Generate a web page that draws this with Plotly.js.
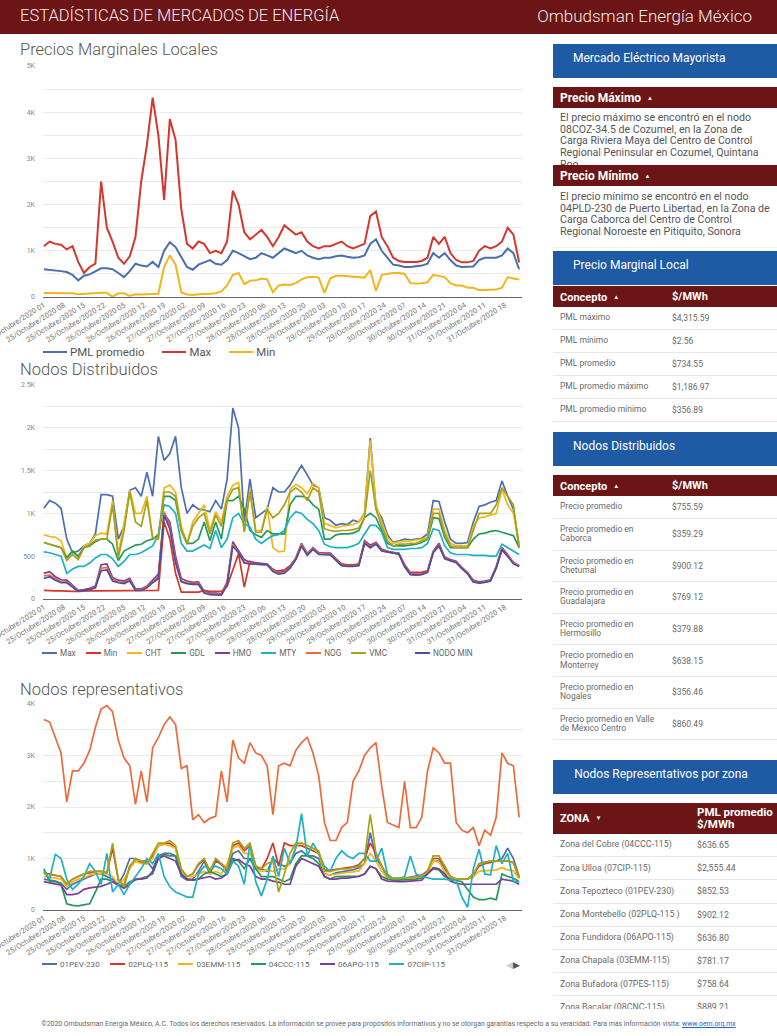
<!DOCTYPE html>
<html><head><meta charset="utf-8">
<script src="https://cdn.plot.ly/plotly-3.0.1.min.js"></script>
<style>
body{margin:0;width:777px;height:1036px;overflow:hidden;background:#fff;font-family:Roboto,"Noto Sans",sans-serif;position:relative}
.abs{position:absolute}
.hdrtxt{position:absolute;color:#f5e9e9;font-weight:300;white-space:nowrap}
.ctitle{position:absolute;left:20px;font-size:16.5px;font-weight:300;color:#555;white-space:nowrap}
.chart{position:absolute;left:0;width:530px}
.leg{position:absolute;display:flex;align-items:center;white-space:nowrap;color:#666}
.leg .it{display:flex;align-items:center}
.leg .ln{display:inline-block;height:2px;margin-right:3px}
.blue{position:absolute;left:553px;width:224px;height:34px;background:#1f5aa5;color:#fff;font-size:12px;line-height:28px;white-space:nowrap}
.red{position:absolute;left:553px;width:224px;background:#6b1517;color:#fff;font-weight:700;font-size:12px;white-space:nowrap}
.tri{font-size:6px;margin-left:6px;vertical-align:2px}
.para{position:absolute;left:560px;font-size:10.6px;line-height:11.7px;color:#555;white-space:nowrap;overflow:hidden}
.row{position:absolute;left:553px;width:224px;border-bottom:1px solid #e8e8e8;font-size:8.5px;color:#6a6a6a;display:flex;align-items:center}
.row .c1{position:absolute;left:7px;line-height:9.3px;white-space:pre-line}
.row .c2{position:absolute;left:119px}
#t3 .row{font-size:8.8px}
#t3 .row .c2{left:144px}
</style></head><body>

<div class="abs" style="left:0;top:0;width:777px;height:34px;background:#6b1517"></div>
<div class="hdrtxt" style="left:20px;top:6px;font-size:16.5px">ESTADÍSTICAS DE MERCADOS DE ENERGÍA</div>
<div class="hdrtxt" style="right:25px;top:6px;font-size:17px">Ombudsman Energía México</div>

<div class="ctitle" style="top:40px">Precios Marginales Locales</div>
<div id="c1" class="chart" style="top:60px;height:290px"></div>
<div id="l1" class="leg" style="left:43px;top:345px;font-size:11.4px;color:#555"></div>

<div class="ctitle" style="top:360px">Nodos Distribuidos</div>
<div id="c2" class="chart" style="top:378px;height:272px"></div>
<div id="l2" class="leg" style="left:42px;top:648px;font-size:8.2px"></div>

<div class="ctitle" style="top:680px">Nodos representativos</div>
<div id="c3" class="chart" style="top:697px;height:262px"></div>
<div id="l3" class="leg" style="left:42px;top:959px;font-size:8.1px"></div>
<div class="abs" style="left:506px;top:959px;font-size:9px;line-height:12px"><span style="color:#ccc">◀</span><span style="color:#555">▶</span></div>

<!-- panel derecho -->
<div class="blue" style="top:44px"><span style="padding-left:20px">Mercado Eléctrico Mayorista</span></div>
<div class="para" style="top:112px;height:53px">El precio máximo se encontró en el nodo<br>08COZ-34.5 de Cozumel, en la Zona de<br>Carga Riviera Maya del Centro de Control<br>Regional Peninsular en Cozumel, Quintana<br>Roo</div>
<div class="red" style="top:87px;height:21px;line-height:21px"><span style="padding-left:7px">Precio Máximo</span><span class="tri">▲</span></div>
<div class="red" style="top:165px;height:21px;line-height:21px"><span style="padding-left:7px">Precio Mínimo</span><span class="tri">▲</span></div>
<div class="para" style="top:191px;height:50px">El precio mínimo se encontró en el nodo<br>04PLD-230 de Puerto Libertad, en la Zona de<br>Carga Caborca del Centro de Control<br>Regional Noroeste en Pitiquito, Sonora</div>
<div class="abs" style="left:553px;top:247px;width:224px;height:1px;background:#eef2f5"></div>

<div class="blue" style="top:251px"><span style="padding-left:20px">Precio Marginal Local</span></div>
<div class="red" style="top:286px;height:21px;line-height:21px;font-size:11px"><span style="position:absolute;left:7px">Concepto<span class="tri">▲</span></span><span style="position:absolute;left:119px">$/MWh</span></div>
<div id="t1"></div>

<div class="blue" style="top:432px"><span style="padding-left:20px">Nodos Distribuidos</span></div>
<div class="red" style="top:475px;height:21px;line-height:21px;font-size:11px"><span style="position:absolute;left:7px">Concepto<span class="tri">▲</span></span><span style="position:absolute;left:119px">$/MWh</span></div>
<div id="t2"></div>

<div class="blue" style="top:760px;text-align:center;padding-right:8px;box-sizing:border-box">Nodos Representativos por zona</div>
<div class="red" style="top:803px;height:31px;font-size:11px"><span style="position:absolute;left:7px;top:9px">ZONA<span class="tri">▼</span></span><span style="position:absolute;left:144px;top:3px;line-height:12px;font-size:11.5px">PML promedio<br>$/MWh</span></div>
<div class="abs" style="left:553px;top:834px;width:224px;height:175px;overflow:hidden"><div id="t3" style="position:relative;left:-553px;top:-834px"></div></div>

<div class="abs" style="left:0;top:1020px;width:777px;text-align:center;font-size:6.9px;color:#666;white-space:nowrap">©2020 Ombudsman Energía México, A.C. Todos los derechos reservados. La información se provee para propósitos informativos y no se otorgan garantías respecto a su veracidad. Para más información visita: <span style="color:#2a64c8;text-decoration:underline">www.oem.org.mx</span></div>

<script>
// ---- categorías (horas) ----
const dias = ['25','26','27','28','29','30','31'];
const horasDia = ['01','02','03','04','05','06','07','08','09','10','11','12','13','14','15','16','17','18','19','20','21','22','23','24'];
const horas = dias.flatMap(d => horasDia.map(h => d + '/Octubre/2020 ' + h));
// lecturas tomadas cada dos horas (horas impares)
const muestras = horas.filter((_, i) => i % 2 === 0);

// ---- Precios Marginales Locales ----
const pmlPromedio = [600,590,570,560,540,480,360,460,490,560,620,620,
 600,520,430,560,720,680,660,760,650,1000,1187,1080,
 850,650,590,700,750,800,720,700,800,1000,950,880,
 820,850,950,900,850,950,1050,1000,950,1000,900,850,
 820,850,850,880,900,870,850,860,900,1150,1250,1000,
 850,700,680,650,650,660,680,720,950,850,950,800,
 680,650,650,660,800,850,850,850,900,1050,950,600];
const pmlMax = [1100,1200,1150,1130,1030,1100,760,520,650,720,2500,1500,
 1200,850,720,880,1300,2500,3300,4316,3500,2100,3850,3400,
 1900,1150,1050,1200,1150,950,1000,950,1200,2300,2000,1400,
 1250,1350,1450,1300,1100,1300,1550,1450,1350,1400,1200,1100,
 1050,1100,1100,1150,1200,1100,1050,1100,1150,1750,1850,1300,
 1100,850,780,760,760,760,780,850,1300,1150,1300,950,
 800,750,750,780,1000,1100,1050,1100,1200,1500,1350,750];
const pmlMin = [85,85,85,85,80,80,60,70,75,80,90,90,
 3,80,80,25,60,55,55,60,70,650,900,700,
 100,55,45,60,60,70,80,120,250,480,520,280,
 350,360,400,380,100,250,270,260,300,380,430,440,
 420,90,400,460,460,450,440,430,420,580,130,480,
 500,520,520,500,300,290,300,320,480,460,430,300,
 250,250,200,200,150,150,150,160,200,430,400,380];

// ---- Nodos Distribuidos ----
const ndMax = [1060,1150,1120,1060,700,540,560,620,650,760,1220,1220,
 1200,700,850,1270,1300,1200,1480,1200,1900,1620,1700,1900,
 1300,1000,1100,1050,1040,1020,1150,1050,1400,2230,2000,900,
 1400,950,1000,1050,1300,1250,1250,1330,1450,1560,1450,1330,
 1300,950,920,860,880,870,920,900,1000,1880,1050,950,
 750,660,680,700,690,700,710,760,1150,1140,900,700,
 650,650,660,900,1080,1100,1130,1150,1380,1200,1050,600];
const ndMin = [100,95,95,95,90,90,90,95,95,95,95,95,
 95,95,95,95,95,95,95,100,100,900,700,300,
 80,80,80,80,100,90,90,90,150,350,530,140,
 440,420,410,400,330,330,340,390,470,620,520,590,
 540,530,530,470,410,400,400,410,650,600,660,580,
 560,540,530,400,310,310,315,330,550,620,480,450,
 430,360,300,200,190,200,215,370,570,500,430,380];
const ndCHT = [750,730,720,680,480,560,480,620,650,740,770,760,
 1150,520,880,1270,1000,1000,1200,700,720,1300,1330,1250,
 850,650,900,1000,1100,800,1020,900,1200,1330,1360,800,
 1280,800,800,1080,600,550,560,1280,1340,1300,1230,1350,
 1300,880,860,830,850,860,870,900,1000,1850,1100,900,
 720,650,670,670,680,690,700,720,1050,1050,800,650,
 620,620,620,850,950,960,980,1000,1280,1100,1000,650];
const ndGDL = [660,640,620,600,480,560,500,600,620,670,700,700,
 640,450,560,600,630,640,680,700,750,1200,1200,1150,
 800,650,650,700,900,680,900,700,1150,1150,1200,1050,
 800,750,720,800,760,760,760,1100,1200,1200,1180,1100,
 1050,700,700,750,760,760,770,800,950,1000,950,800,
 650,620,620,620,630,640,660,700,950,940,720,600,
 600,600,600,700,760,770,790,800,780,760,740,600];
const ndHMO = [300,320,260,225,220,160,100,110,125,150,400,410,
 250,220,210,240,120,120,150,220,290,1000,900,500,
 240,210,195,200,90,70,70,60,200,670,560,460,
 430,420,410,407,350,310,320,380,480,650,530,600,
 540,535,535,470,400,390,390,400,680,630,660,575,
 555,545,535,390,295,290,295,320,560,650,490,460,
 440,370,310,220,200,210,225,380,600,520,420,390];
const ndMTY = [550,540,520,500,300,350,380,380,420,480,520,520,
 470,380,440,520,520,540,580,620,750,1100,1080,1000,
 650,560,560,600,630,590,800,600,700,950,1000,880,
 840,700,650,700,740,750,800,950,1020,1000,930,880,
 800,640,610,600,600,600,620,650,760,860,860,780,
 600,580,580,580,590,590,600,650,820,800,620,540,
 520,520,520,510,510,510,500,500,640,600,550,520];
const ndNOG = [270,280,240,200,200,150,95,100,110,140,360,370,
 230,200,190,220,110,110,140,200,260,1020,850,450,
 210,190,180,185,80,60,60,55,180,640,540,430,
 420,410,400,400,340,300,310,370,470,640,520,590,
 530,525,525,460,395,385,385,395,660,610,650,570,
 550,540,530,380,290,285,290,315,550,630,480,450,
 430,360,300,210,190,200,215,370,590,510,420,390];
const ndVMC = [660,640,620,600,450,520,460,600,630,690,700,700,
 1100,480,800,1250,900,850,1150,720,700,1250,1250,1200,
 800,640,850,950,1000,760,980,850,1150,1280,1300,780,
 1250,780,780,1050,950,1000,1100,1250,1300,1250,1150,1300,
 1250,820,800,790,800,800,810,830,950,1500,1050,850,
 680,620,640,640,650,650,680,700,1000,1000,760,620,
 600,600,600,800,1000,1000,1000,1100,1300,1200,1100,600];
const ndNodoMin = [240,260,220,190,190,140,90,100,110,130,330,340,
 210,190,180,210,100,100,130,190,240,980,820,420,
 200,180,170,170,70,50,50,45,160,620,540,420,
 410,405,400,400,320,290,300,360,460,620,510,580,
 520,515,515,450,390,380,380,390,650,600,640,560,
 545,535,525,375,285,280,285,310,540,620,470,445,
 425,355,295,200,185,195,210,360,580,500,410,380];

// ---- Nodos representativos ----
const r01PEV = [600,580,560,520,400,500,550,600,650,700,700,650,
 600,500,700,1000,1000,950,950,800,1050,1100,1100,1050,
 650,580,600,750,950,700,950,900,750,1100,1150,1000,
 1000,800,800,750,1000,900,850,900,1100,1150,1050,1050,
 1000,700,680,720,740,750,780,820,900,1500,1000,850,
 650,600,600,620,640,650,680,760,950,950,800,650,
 600,600,600,650,900,930,950,950,1000,1200,1000,650];
const r02PLQ = [720,700,680,650,500,600,650,700,720,750,750,720,
 1200,580,480,850,950,920,900,1050,1250,1280,1300,1200,
 780,650,700,880,980,750,980,880,800,1250,1300,1150,
 1250,850,800,1000,1300,850,1300,1250,1250,1250,1200,1150,
 1100,780,770,790,810,820,840,880,1000,1300,1100,850,
 640,620,620,620,630,640,660,750,1000,1000,850,640,
 600,600,600,700,850,900,920,950,950,950,920,620];
const r03EMM = [650,630,620,600,450,550,600,620,680,700,700,700,
 650,500,600,800,950,900,900,1000,1250,1280,1250,1200,
 750,650,650,700,750,700,750,700,900,1200,1250,1100,
 1100,800,750,780,750,800,800,900,1250,1300,1250,1200,
 1100,700,680,700,720,730,740,760,900,1100,950,750,
 620,620,620,620,630,640,650,700,950,930,750,620,
 600,600,600,650,750,760,770,780,820,780,760,600];
const r04CCC = [800,550,550,500,120,90,80,100,120,350,600,600,
 550,500,450,550,580,620,650,700,1000,1080,1050,1050,
 700,600,580,600,700,750,700,650,700,1000,950,800,
 1000,800,650,650,650,600,550,600,900,1050,1050,1000,
 900,650,600,650,650,650,650,660,700,850,800,650,
 600,580,580,580,590,600,620,700,800,780,650,600,
 580,550,400,250,200,200,230,200,700,650,620,550];
const r06APO = [550,530,500,480,300,300,320,400,430,450,460,500,
 550,480,420,500,600,600,620,750,1000,1050,1000,950,
 700,600,580,600,620,650,600,620,700,950,980,900,
 850,650,600,600,560,540,500,500,850,1000,950,900,
 850,650,600,600,620,620,630,650,700,850,800,600,
 560,550,550,550,560,560,580,700,820,800,700,560,
 520,500,500,500,500,500,510,500,600,580,560,500];
const r07CIP = [750,600,1080,1000,600,400,500,650,900,750,500,1100,
 350,500,300,500,650,800,1000,900,1100,650,450,350,
 300,250,250,700,850,800,850,800,700,950,850,500,
 1300,550,270,600,1050,650,1200,900,1200,1870,1050,1300,
 1100,850,750,1000,1150,1050,1000,1100,1100,950,950,1200,
 700,600,600,650,1050,700,650,620,600,600,600,580,
 580,250,50,800,1180,700,680,1250,900,1100,550,550];
const r07PES = [3700,3650,3350,3050,2100,2700,2700,2850,3100,3550,3900,3970,
 3850,3300,2950,2800,2050,2700,2100,3150,3350,3600,3750,3600,
 2750,2800,1750,1850,1700,1780,1820,2700,2100,3300,2950,2850,
 3250,3050,3000,2800,1850,2800,2850,2800,3100,3250,3350,3050,
 2600,1700,1350,1350,1600,1700,2500,2700,3000,3150,3250,2400,
 1700,1650,1600,2500,1600,1600,1800,2700,3150,3050,2850,2850,
 1700,1550,1500,1600,1250,1550,1450,1800,3050,2850,2800,1800];
const r08CNC = [700,680,660,650,500,600,650,700,750,750,750,720,
 1300,600,450,850,1000,950,900,1100,1300,1300,1350,1250,
 800,650,700,900,1000,750,1000,900,800,1300,1350,1200,
 1300,850,800,900,950,350,700,1100,1300,1300,1250,1200,
 1150,750,750,780,800,800,820,850,1000,1850,1100,850,
 650,620,620,620,630,640,660,750,1050,1050,850,650,
 600,600,600,700,900,920,950,950,950,950,920,650];

// ---- ejes ----
const yVals1 = [0,500,1000,1500,2000,2500,3000,3500,4000,4500,5000];
const yTxt1 = ['0','','1K','','2K','','3K','','4K','','5K'];
const yVals2 = [0,250,500,750,1000,1250,1500,1750,2000,2250,2500];
const yTxt2 = ['0','','500','','1K','','1.5K','','2K','','2.5K'];
const yVals3 = [0,500,1000,1500,2000,2500,3000,3500,4000];
const yTxt3 = ['0','','1K','','2K','','3K','','4K'];

// ---- tablas ----
const conceptosPML = ['PML máximo','PML mínimo','PML promedio','PML promedio máximo','PML promedio mínimo'];
const valoresPML = ['$4,315.59','$2.56','$734.55','$1,186.97','$356.89'];
const conceptosND = ['Precio promedio','Precio promedio en\nCaborca','Precio promedio en\nChetumal','Precio promedio en\nGuadalajara','Precio promedio en\nHermosillo','Precio promedio en\nMonterrey','Precio promedio en\nNogales','Precio promedio en Valle\nde México Centro'];
const valoresND = ['$755.59','$359.29','$900.12','$769.12','$379.88','$638.15','$356.46','$860.49'];
const zonas = ['Zona del Cobre (04CCC-115)','Zona Ulloa (07CIP-115)','Zona Tepozteco (01PEV-230)','Zona Montebello (02PLQ-115 )','Zona Fundidora (06APO-115)','Zona Chapala (03EMM-115)','Zona Bufadora (07PES-115)','Zona Bacalar (08CNC-115)'];
const valoresZonas = ['$636.65','$2,555.44','$852.53','$902.12','$636.80','$781.17','$758.64','$889.21'];

// ---- dibujo ----
const xIdx = muestras.map(m => horas.indexOf(m));
const tickIdx = horas.map((_, i) => i).filter(i => i % 7 === 0);
const tickTxt = tickIdx.map(i => horas[i]);

function layout(h, t, b, yv, yt, ymax) {
  return {
    width: 530, height: h, margin: {l: 43, r: 8, t: t, b: b},
    paper_bgcolor: 'rgba(0,0,0,0)', plot_bgcolor: 'rgba(0,0,0,0)',
    showlegend: false, font: {family: 'Roboto, sans-serif', color: '#777'},
    xaxis: {range: [-0.3, 167], tickmode: 'array', tickvals: tickIdx, ticktext: tickTxt,
      tickangle: -32, tickfont: {size: 7.5, color: '#777'}, showgrid: false, zeroline: false,
      showline: true, linecolor: '#666', linewidth: 1, ticks: '', ticklabeloverflow: 'allow'},
    yaxis: {range: [0, ymax], tickmode: 'array', tickvals: yv, ticktext: yt,
      tickfont: {size: 7, color: '#888'}, gridcolor: '#ebebeb', gridwidth: 1,
      zeroline: false, showline: false, ticks: '', ticklabelstandoff: 7}
  };
}
function traces(series, names, colors, w) {
  return series.map((s, k) => ({type: 'scatter', mode: 'lines', x: xIdx, y: s, name: names[k],
    line: {color: colors[k], width: w}, hoverinfo: 'skip'}));
}
function legend(id, names, colors, lnW, gap) {
  const el = document.getElementById(id);
  el.style.gap = gap + 'px';
  names.forEach((n, k) => {
    const it = document.createElement('div'); it.className = 'it';
    it.innerHTML = '<span class="ln" style="width:' + lnW + 'px;background:' + colors[k] + '"></span><span>' + n + '</span>';
    el.appendChild(it);
  });
  return el;
}
const cfg = {staticPlot: true, displayModeBar: false};

const n1 = ['PML promedio', 'Max', 'Min'];
const col1 = ['#4a6fae', '#d5372c', '#f2b51c'];
Plotly.newPlot('c1', traces([pmlPromedio, pmlMax, pmlMin], n1, col1, 2), layout(290, 6, 53, yVals1, yTxt1, 5000), cfg);
legend('l1', n1, col1, 24, 18);

const n2 = ['Max','Min','CHT','GDL','HMO','MTY','NOG','VMC','NODO MIN'];
const col2 = ['#4c6fb0','#d5372c','#f2b51c','#23995a','#7e3d97','#1fb0c6','#ec6b3c','#a5a31c','#4a4f9f'];
Plotly.newPlot('c2', traces([ndMax, ndMin, ndCHT, ndGDL, ndHMO, ndMTY, ndNOG, ndVMC, ndNodoMin], n2, col2, 1.7), layout(272, 7, 51, yVals2, yTxt2, 2500), cfg);
const lg2 = legend('l2', n2, col2, 15, 10);
lg2.lastChild.style.marginLeft = '18px';

const n3 = ['01PEV-230','02PLQ-115','03EMM-115','04CCC-115','06APO-115','07CIP-115','07PES-115','08CNC-115'];
const col3 = ['#4c6fb0','#d5372c','#f2b51c','#23995a','#7e3d97','#1fb0c6','#ec6b3c','#a5a31c'];
Plotly.newPlot('c3', traces([r01PEV, r02PLQ, r03EMM, r04CCC, r06APO, r07CIP, r07PES, r08CNC], n3, col3, 1.7), layout(262, 7, 49, yVals3, yTxt3, 4000), cfg);
legend('l3', n3.slice(0, 6), col3.slice(0, 6), 15, 10.5);

// tablas
function filas(id, top, heights, c1, c2) {
  const el = document.getElementById(id);
  let y = top;
  c1.forEach((t, k) => {
    const h = heights[k];
    const r = document.createElement('div'); r.className = 'row';
    r.style.top = y + 'px'; r.style.height = (h - 1) + 'px';
    r.innerHTML = '<span class="c1">' + t + '</span><span class="c2">' + c2[k] + '</span>';
    el.appendChild(r); y += h;
  });
}
filas('t1', 307, conceptosPML.map(() => 23), conceptosPML, valoresPML);
filas('t2', 496, conceptosND.map((c, k) => k === 0 ? 23 : 31.6), conceptosND, valoresND);
filas('t3', 834, zonas.map(() => 23.2), zonas, valoresZonas);
</script>
</body></html>
